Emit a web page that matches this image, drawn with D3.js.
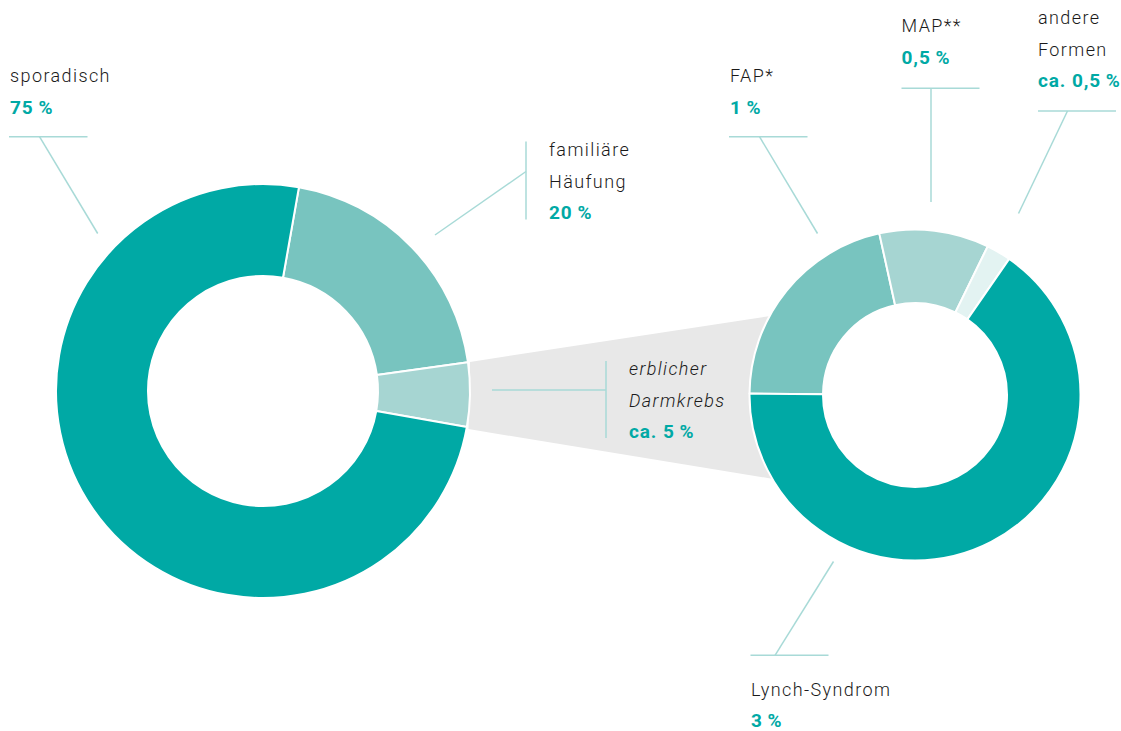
<!DOCTYPE html>
<html>
<head>
<meta charset="utf-8">
<script src="https://cdn.jsdelivr.net/npm/d3@7"></script>
<style>
  html, body { margin: 0; padding: 0; background: #fff; }
  svg { display: block; }
  .lbl { font-family: Roboto, "Open Sans", sans-serif; font-size: 18px; font-weight: 300; fill: #1a1a1a; letter-spacing: 1.4px; }
  .val { font-family: Roboto, "Open Sans", sans-serif; font-size: 19px; font-weight: 700; fill: #00a9a5; letter-spacing: 0.9px; }
  .lead { stroke: #a8dad7; stroke-width: 1.5; fill: none; }
</style>
</head>
<body>
<div id="chart"></div>
<script>
// Left donut: all colorectal cancer
const mainCategories = ["familiäre Häufung", "erblicher Darmkrebs", "sporadisch"];
const mainValues = [20, 5, 75];
const mainColors = ["#78c4bf", "#a6d5d2", "#00a9a5"];

// Right donut: hereditary forms (shares as drawn in the picture)
const subCategories = ["FAP*", "MAP**", "andere Formen", "Lynch-Syndrom"];
const subValues = [21.4, 10.7, 2.4, 65.5];
const subColors = ["#78c4bf", "#a6d5d2", "#e3f3f2", "#00a9a5"];

// Label texts
const labelLines = {
    sporadisch: ["sporadisch"],
    familiaer: ["familiäre", "Häufung"],
    erblich: ["erblicher", "Darmkrebs"],
    fap: ["FAP*"],
    map: ["MAP**"],
    andere: ["andere", "Formen"],
    lynch: ["Lynch-Syndrom"]
};
const labelValues = {
    sporadisch: "75\u2009%",
    familiaer: "20\u2009%",
    erblich: "ca. 5\u2009%",
    fap: "1\u2009%",
    map: "0,5\u2009%",
    andere: "ca. 0,5\u2009%",
    lynch: "3\u2009%"
};

const width = 1121, height = 731;
const rad = Math.PI / 180;

const svg = d3.select("#chart").append("svg")
    .attr("width", width)
    .attr("height", height);

// geometry
const big = { cx: 263, cy: 391, r0: 115, r1: 207 };
const small = { cx: 915, cy: 395, r0: 92, r1: 165.5 };

const mainPie = d3.pie().sort(null).value(d => d)
    .startAngle(10 * rad).endAngle(370 * rad);
const subPie = d3.pie().sort(null).value(d => d)
    .startAngle(270.5 * rad).endAngle(630.5 * rad);

const mainArcs = mainPie(mainValues);
const subArcs = subPie(subValues);

// grey connector from the hereditary slice to the right donut
const her = mainArcs[1];
const p = (c, a, r) => {
    const q = d3.pointRadial(a, r);
    return [c.cx + q[0], c.cy + q[1]];
};
const conn = [
    p(big, her.startAngle, big.r1 + 2),
    p(small, 299 * rad, small.r1 - 2),
    p(small, 239 * rad, small.r1 - 2),
    p(big, her.endAngle + 0.5 * rad, big.r1 + 2)
];
svg.append("path")
    .attr("d", d3.line()(conn) + "Z")
    .attr("fill", "#e8e8e8");

function donut(c, arcs, colors) {
    const arc = d3.arc().innerRadius(c.r0).outerRadius(c.r1);
    svg.append("g")
        .attr("transform", `translate(${c.cx},${c.cy})`)
        .selectAll("path")
        .data(arcs)
        .join("path")
        .attr("d", arc)
        .attr("fill", (d, i) => colors[i])
        .attr("stroke", "#fff")
        .attr("stroke-width", 2)
        .attr("stroke-linejoin", "round");
}
donut(big, mainArcs, mainColors);
donut(small, subArcs, subColors);

// leader lines (annotation layout)
const leaders = [
    [[9, 136.7], [87.5, 136.7]], [[39.5, 136.7], [97.7, 233.5]],
    [[526, 141.5], [526, 219.5]], [[526, 171.5], [435, 235]],
    [[492, 390], [606, 390]], [[606, 361], [606, 438]],
    [[729, 136.7], [807.5, 136.7]], [[759.5, 136.7], [817.5, 233.5]],
    [[901.5, 88.3], [979.5, 88.3]], [[931, 88.3], [931, 202]],
    [[1038, 111], [1116, 111]], [[1067.5, 111], [1018.5, 213.5]],
    [[750.5, 655.3], [828.5, 655.3]], [[775, 655.3], [833.5, 561.5]]
];
svg.append("g").selectAll("path")
    .data(leaders)
    .join("path")
    .attr("class", "lead")
    .attr("d", d => d3.line()(d));

// labels: x, first baseline, italic
const labelPos = [
    { key: "sporadisch", x: 10, y: 82.3 },
    { key: "familiaer", x: 549, y: 156 },
    { key: "erblich", x: 629, y: 375, italic: true },
    { key: "fap", x: 730, y: 82.3 },
    { key: "map", x: 901.5, y: 32.3 },
    { key: "andere", x: 1038, y: 24 },
    { key: "lynch", x: 751, y: 695.7 }
];
const lineH = 31.7;

labelPos.forEach(l => {
    const g = svg.append("g");
    const lines = labelLines[l.key];
    lines.forEach((t, i) => {
        g.append("text")
            .attr("class", "lbl")
            .attr("x", l.x)
            .attr("y", l.y + i * lineH)
            .style("font-style", l.italic ? "italic" : null)
            .text(t);
    });
    g.append("text")
        .attr("class", "val")
        .attr("x", l.x)
        .attr("y", l.y + lines.length * lineH)
        .text(labelValues[l.key]);
});
</script>
</body>
</html>
